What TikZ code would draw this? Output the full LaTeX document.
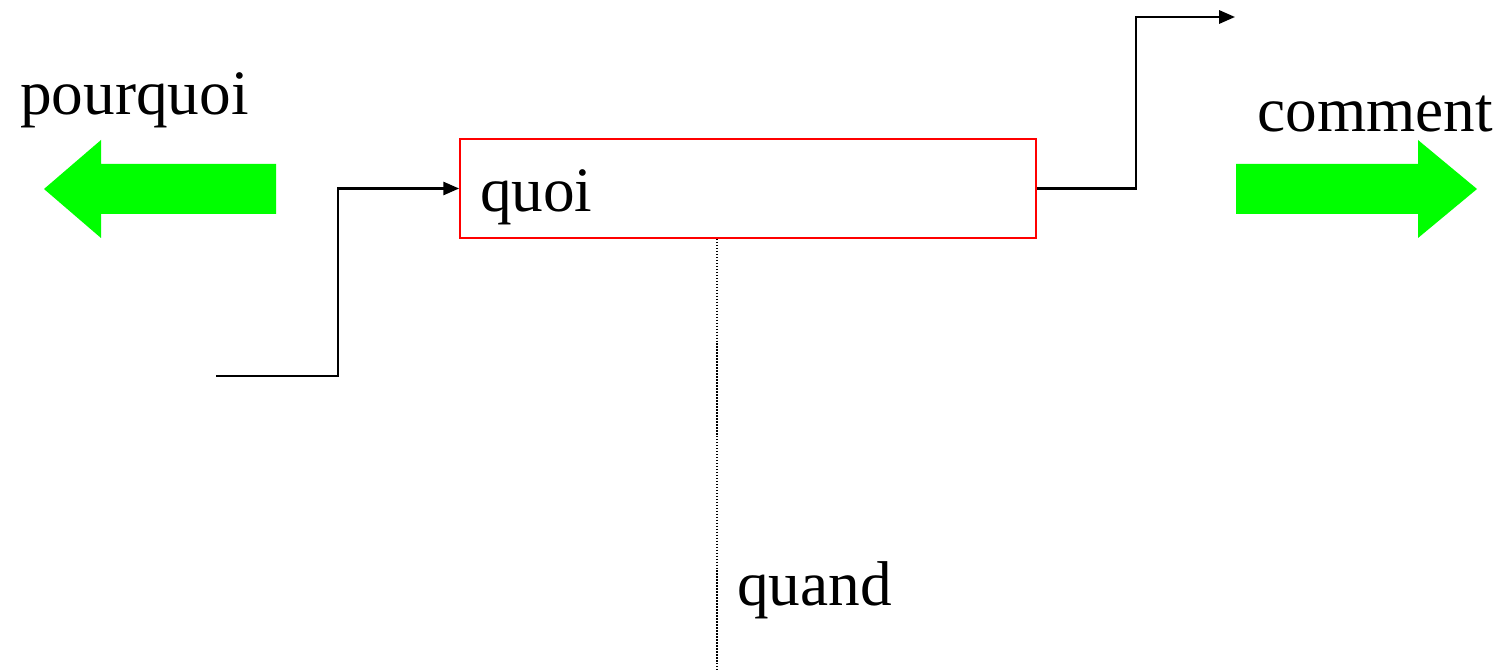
\documentclass[tikz,border=0pt]{standalone}
\usepackage{fontspec}
\setmainfont{Liberation Serif}
\usetikzlibrary{arrows.meta}

\begin{document}
\begin{tikzpicture}[x=0.02cm,y=-0.02cm]
    \tikzstyle{word}=[anchor=base west,inner sep=0pt,font=\fontsize{36}{43}\selectfont]
    \tikzstyle{task}=[draw=red,line width=1.1pt,rectangle,minimum width=11.52cm,minimum height=1.98cm,
        inner xsep=0.4cm,inner ysep=0pt,text width=10.72cm,align=left,
        text height=1.46cm,text depth=0.52cm,font=\fontsize{36}{43}\selectfont]
    \tikzstyle{flow}=[line width=1.3pt,-{Triangle[length=9pt,width=7.5pt]}]
    \tikzstyle{bigarrow}=[fill=green]

    \useasboundingbox (0,0) rectangle (1502,672);

    \node[task] at (748,188.5) (quoi) {quoi};

    \node[word] at (20,115) (pourquoi) {pourquoi};
    \node[word] at (1257,132) (comment) {comment};
    \node[word] at (737,605) (quand) {quand};

    \coordinate (in) at (216,376);
    \coordinate (out) at (1235,17);
    \coordinate (time) at (717,672);

    % input and output steps
    \draw[flow] (in) -- ++(122,0) |- (quoi.west);
    \draw[flow] (quoi.east) -- ++(99,0) |- (out);

    % time line
    \draw[line width=0.8pt,dash pattern=on 0.8pt off 0.9pt] (time |- quoi.south) -- (time);

    % big green arrows
    \fill[bigarrow] (276,164) -- (101,164) -- (101,140) -- (44,189) -- (101,238) -- (101,214) -- (276,214) -- cycle;
    \fill[bigarrow] (1236,164) -- (1418,164) -- (1418,140) -- (1477,189) -- (1418,238) -- (1418,214) -- (1236,214) -- cycle;
\end{tikzpicture}
\end{document}
